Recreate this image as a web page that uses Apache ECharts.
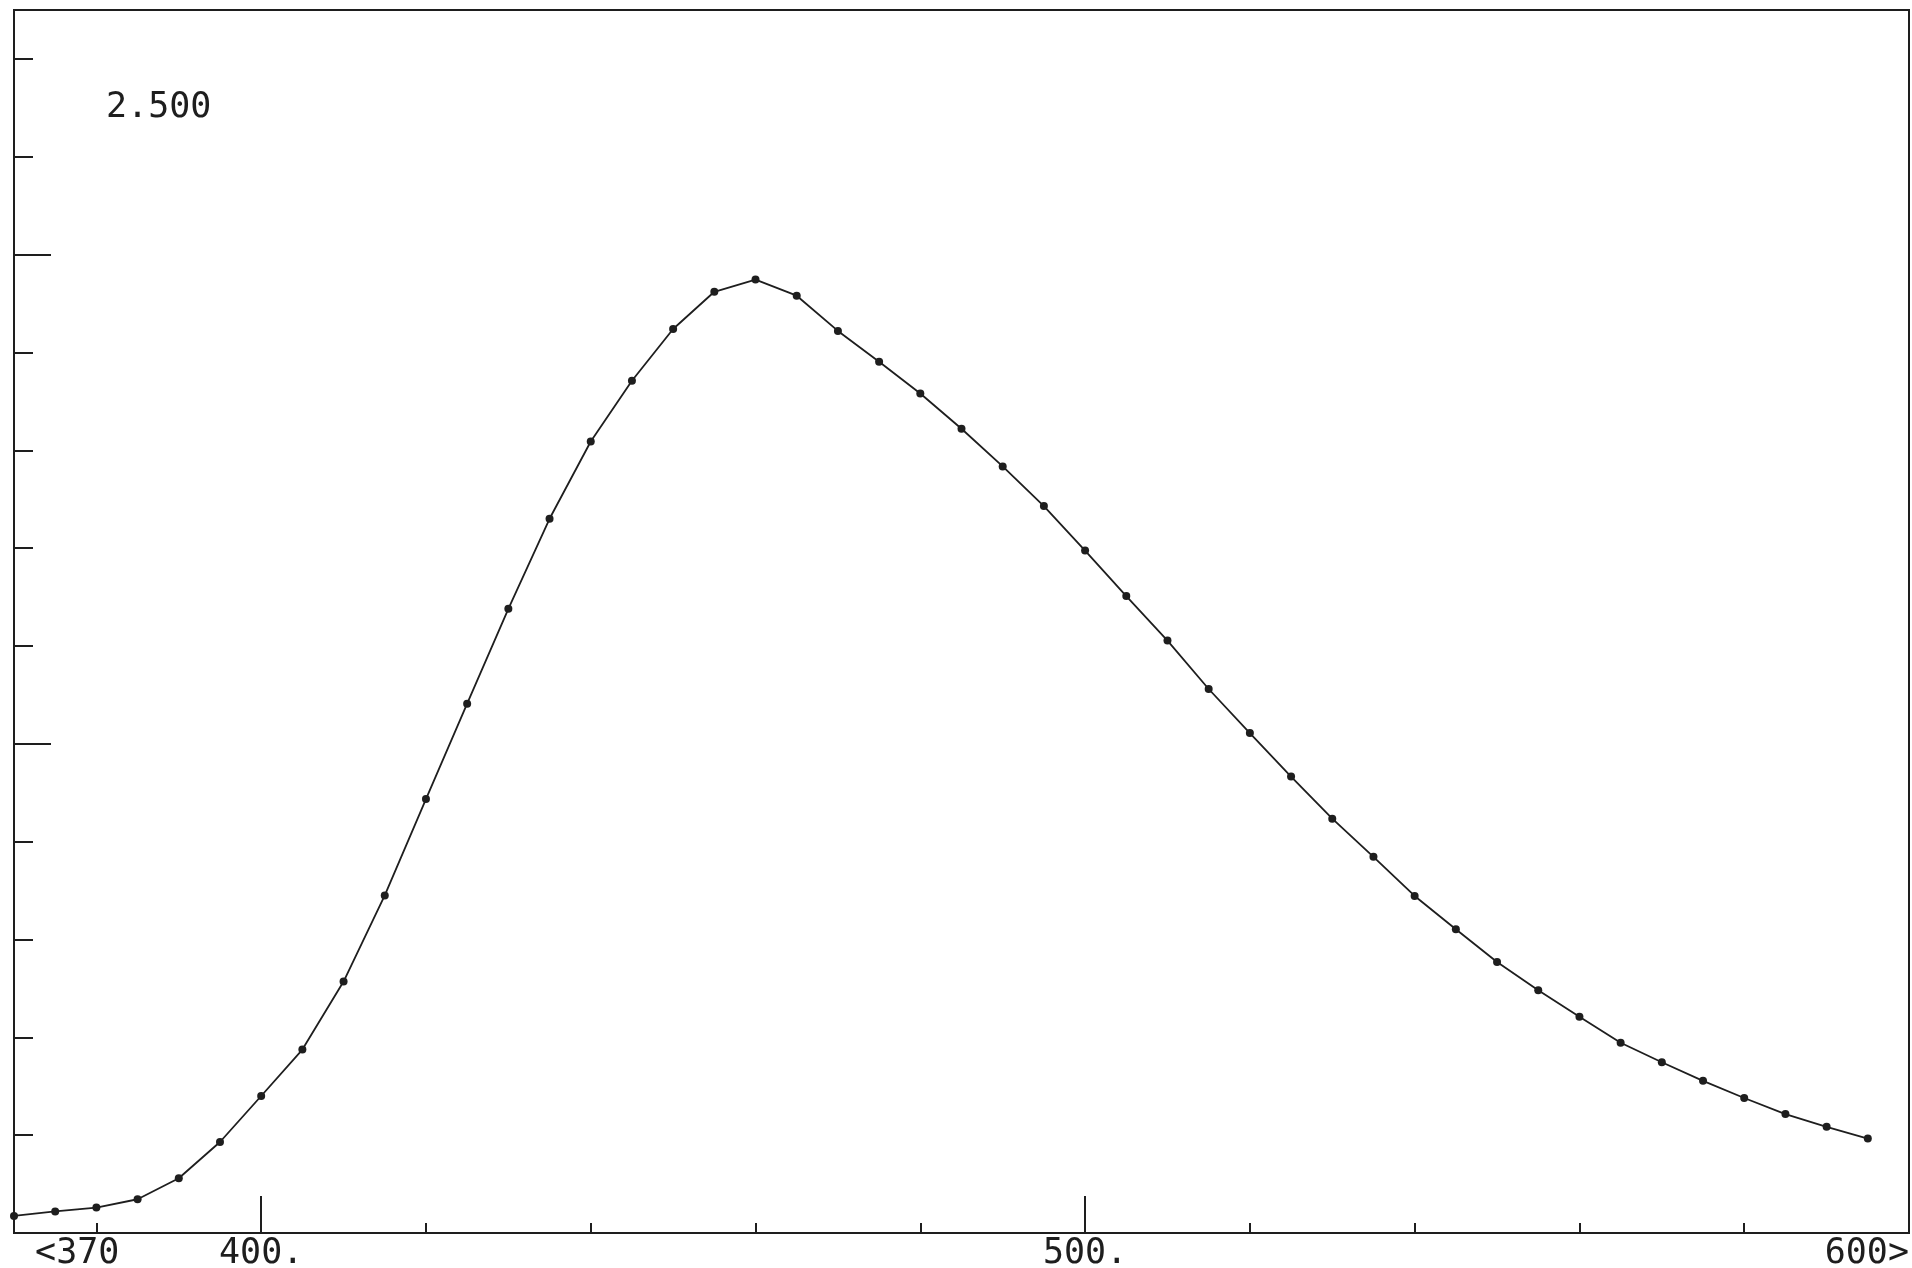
<!DOCTYPE html>
<html>
<head>
<meta charset="utf-8">
<script src="https://cdn.jsdelivr.net/npm/echarts@6/dist/echarts.min.js"></script>
<style>
html,body{margin:0;padding:0;background:#fff;}
#chart{width:1912px;height:1268px;}
</style>
</head>
<body>
<div id="chart"></div>
<script>
// wavelength (nm)
const wavelengths = [370,375,380,385,390,395,400,405,410,415,420,425,430,435,440,445,450,455,460,465,470,475,480,485,490,495,500,505,510,515,520,525,530,535,540,545,550,555,560,565,570,575,580,585,590,595];
// intensity
const intensity = [0.035,0.044,0.052,0.069,0.112,0.186,0.280,0.375,0.514,0.690,0.887,1.082,1.276,1.460,1.618,1.742,1.848,1.924,1.949,1.916,1.844,1.781,1.716,1.644,1.567,1.486,1.395,1.302,1.211,1.112,1.022,0.933,0.847,0.769,0.689,0.621,0.554,0.496,0.442,0.389,0.349,0.311,0.276,0.243,0.217,0.193];
const xMinorTicks = [380,420,440,460,480,520,540,560,580];
const xMajorTicks = [400,500];
const xLabelValues = [370,400,500,600];
const xLabelTexts = [' <370','400.','500.','600>'];
const yMinorTicks = [0.2,0.4,0.6,0.8,1.2,1.4,1.6,1.8,2.2,2.4];
const yMajorTicks = [1.0,2.0];
const fullScaleLabel = '2.500';

const ink = '#1e1e1e';
const mono = '"DejaVu Sans Mono", "Liberation Mono", monospace';
const chart = echarts.init(document.getElementById('chart'));
const points = wavelengths.map((w,i)=>[w,intensity[i]]);

chart.setOption({
  animation:false,
  backgroundColor:'#fff',
  title:{text:fullScaleLabel,left:106,top:90,padding:0,
    textStyle:{fontFamily:mono,fontSize:35,fontWeight:'normal',color:ink}},
  grid:{left:14,right:3,top:10,bottom:35,outerBoundsMode:'none',containLabel:false,
    show:true,borderColor:ink,borderWidth:2,backgroundColor:'transparent'},
  xAxis:[
    {type:'value',min:370,max:600,position:'bottom',
     axisLine:{show:true,lineStyle:{color:ink,width:2}},
     axisTick:{show:true,inside:true,length:10,customValues:xMinorTicks,lineStyle:{color:ink,width:2}},
     axisLabel:{show:true,customValues:xLabelValues,margin:3,alignMinLabel:'left',alignMaxLabel:'right',
       fontFamily:mono,fontSize:35,color:ink,
       formatter:(v)=>{const i=xLabelValues.indexOf(v);return i>=0?xLabelTexts[i]:'';}},
     splitLine:{show:false}},
    {type:'value',min:370,max:600,position:'bottom',
     axisLine:{show:false},
     axisTick:{show:true,inside:true,length:37,customValues:xMajorTicks,lineStyle:{color:ink,width:2}},
     axisLabel:{show:false},splitLine:{show:false}}
  ],
  yAxis:[
    {type:'value',min:0,max:2.5,position:'left',
     axisLine:{show:true,lineStyle:{color:ink,width:2}},
     axisTick:{show:true,inside:true,length:19,customValues:yMinorTicks,lineStyle:{color:ink,width:2}},
     axisLabel:{show:false},splitLine:{show:false}},
    {type:'value',min:0,max:2.5,position:'left',
     axisLine:{show:false},
     axisTick:{show:true,inside:true,length:37,customValues:yMajorTicks,lineStyle:{color:ink,width:2}},
     axisLabel:{show:false},splitLine:{show:false}}
  ],
  series:[{
    type:'line',xAxisIndex:0,yAxisIndex:0,data:points,smooth:false,
    symbol:'circle',symbolSize:8,showSymbol:true,
    lineStyle:{color:ink,width:1.8},itemStyle:{color:ink}
  }]
});
</script>
</body>
</html>
